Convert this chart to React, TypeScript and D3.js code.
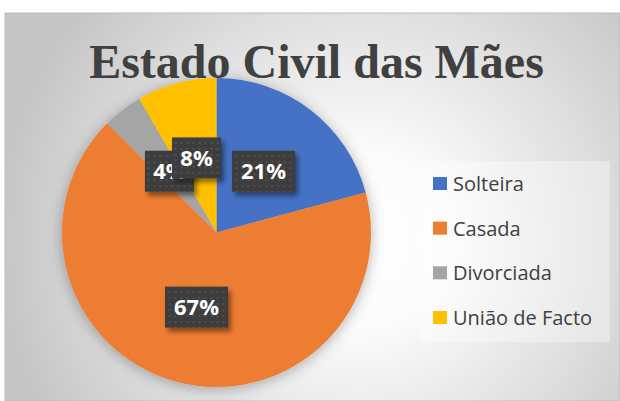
import React from "react";
import * as d3 from "d3";

const categories = ["Solteira", "Casada", "Divorciada", "União de Facto"];
const counts = [5, 16, 1, 2];
const colors = ["#4472C4", "#ED7D31", "#A5A5A5", "#FFC000"];
const title = "Estado Civil das Mães";

const W = 620;
const H = 401;

export default function App() {
  const cx = 216.5;
  const cy = 232.5;
  const r = 154.5;
  const total = d3.sum(counts);
  const pie = d3.pie<number>().sort(null).value((d) => d);
  const arcs = pie(counts);
  const arc = d3.arc<d3.PieArcDatum<number>>().innerRadius(0).outerRadius(r);
  const fmt = (v: number) => `${Math.round((v / total) * 100)}%`;

  const legendY = d3.scalePoint<string>().domain(categories).range([184, 318]);

  // draw order of labels: Divorciada before União (8% on top)
  const labelOrder = [0, 1, 2, 3];

  return (
    <svg
      width={W}
      height={H}
      style={{ position: "absolute", left: 0, top: 0, background: "#fff" }}
    >
      <defs>
        <radialGradient id="bg" gradientUnits="userSpaceOnUse" cx={360} cy={240} r={360}>
          <stop offset="0" stopColor="#ffffff" />
          <stop offset="0.25" stopColor="#fbfbfb" />
          <stop offset="1" stopColor="#c6c6c6" />
        </radialGradient>
        <filter id="pieShadow" x="-20%" y="-20%" width="140%" height="140%">
          <feDropShadow dx="0" dy="2" stdDeviation="7" floodColor="#000" floodOpacity="0.3" />
        </filter>
        <filter id="lblShadow" x="-30%" y="-30%" width="160%" height="160%">
          <feDropShadow dx="3" dy="4" stdDeviation="2.5" floodColor="#000" floodOpacity="0.45" />
        </filter>
        <pattern id="dots" width="6" height="6" patternUnits="userSpaceOnUse">
          <rect width="6" height="6" fill="#3d3d3d" />
          <circle cx="3" cy="3" r="1" fill="#555555" />
        </pattern>
      </defs>
      <rect x={5} y={13} width={W - 5} height={H - 13} fill="url(#bg)" stroke="#bcbcbc" strokeWidth={1} />

      <g transform={`translate(${cx},${cy})`}>
        <g filter="url(#pieShadow)">
          {arcs.map((a, i) => (
            <path key={i} d={arc(a) || ""} fill={colors[i]} />
          ))}
        </g>
      </g>

      <text
        x={316.5}
        y={78}
        textAnchor="middle"
        fontFamily="'Liberation Serif', 'Times New Roman', serif"
        fontWeight="bold"
        fontSize={48}
        fill="#404040"
      >
        {title}
      </text>

      <g transform={`translate(${cx},${cy})`}>
        {labelOrder.map((i) => {
          const a = arcs[i];
          const [lx, ly] = arc.centroid(a);
          const txt = fmt(counts[i]);
          const w = txt.length === 3 ? 63 : 49;
          const h = 41;
          return (
            <g key={i} transform={`translate(${lx},${ly})`}>
              <rect x={-w / 2} y={-h / 2} width={w} height={h} fill="url(#dots)" filter="url(#lblShadow)" />
              <text
                x={0}
                y={0}
                dy="0.36em"
                textAnchor="middle"
                fontFamily="'Open Sans', sans-serif"
                fontWeight="bold"
                fontSize={22}
                fill="#ffffff"
              >
                {txt}
              </text>
            </g>
          );
        })}
      </g>

      <rect x={421} y={161} width={189} height={181} fill="#ffffff" fillOpacity={0.35} />
      {categories.map((c, i) => (
        <g key={c} transform={`translate(433,${legendY(c)})`}>
          <rect x={0} y={-7} width={14} height={13} fill={colors[i]} />
          <text
            x={20}
            y={0}
            dy="0.35em"
            fontFamily="'Open Sans', sans-serif"
            fontSize={20}
            fill="#404040"
          >
            {c}
          </text>
        </g>
      ))}
    </svg>
  );
}
